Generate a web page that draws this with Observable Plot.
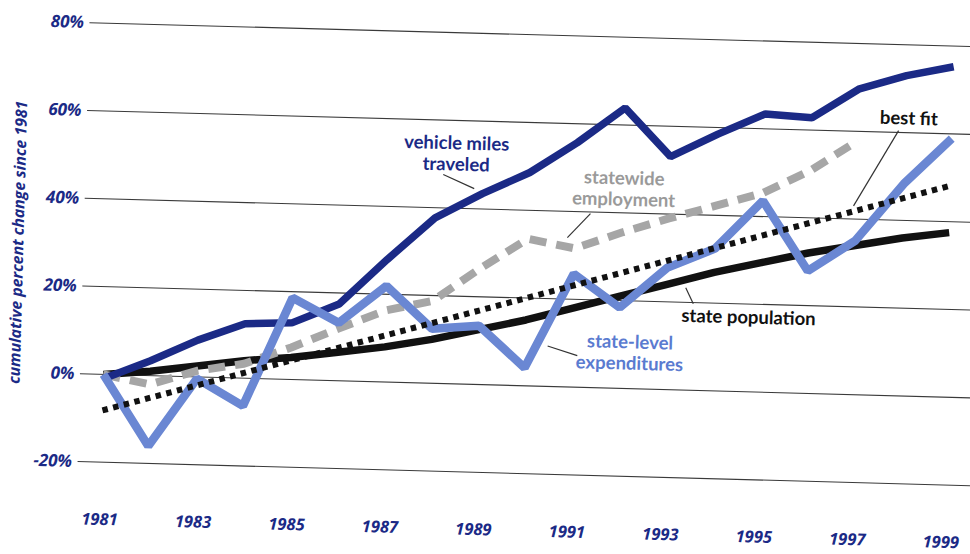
<!DOCTYPE html>
<html>
<head>
<meta charset="utf-8">
<script src="https://cdn.jsdelivr.net/npm/d3@7"></script>
<script src="https://cdn.jsdelivr.net/npm/@observablehq/plot@0.6"></script>
<style>
  html, body { margin: 0; padding: 0; background: #fff; }
  #chart { width: 970px; height: 554px; overflow: hidden; position: relative; background: #fff; }
  #chart svg { display: block; transform: rotate(1.55deg); transform-origin: 485px 277px; }
</style>
</head>
<body>
<div id="chart"></div>
<script>
// ---- data (cumulative percent change since 1981) ----
const years = [1981,1982,1983,1984,1985,1986,1987,1988,1989,1990,1991,1992,1993,1994,1995,1996,1997,1998,1999];
const vehicleMiles = [-1, 3.4, 8.4, 12.4, 12.9, 17.5, 27.9, 37.7, 43.5, 48.6, 55.7, 63.9, 53.1, 58.5, 63.4, 62.8, 69.7, 73, 75.3];
const expenditures = [0, -16, -0.4, -6.3, 18.6, 13.2, 21.9, 12.4, 13.4, 4.1, 25.8, 18.4, 27.8, 32.4, 43.6, 27.9, 35.1, 48.3, 58.9];
const population = [0, 1, 2.5, 4, 5, 6.5, 8, 10, 12.5, 15, 18, 21, 24, 27, 29.5, 32, 34, 36, 37.5];
const employmentYears = [1981,1982,1983,1984,1985,1986,1987,1988,1989,1990,1991,1992,1993,1994,1995,1996,1997];
const employment = [0, -2, 1.4, 3.3, 7.3, 11.9, 16.3, 18.8, 26.5, 33.5, 31.6, 35.5, 39, 42.2, 45.4, 50.8, 57.9];
const bestFitYears = [1981, 1999];
const bestFit = [-8.2, 48.2];

const gridValues = [-20, 0, 20, 40, 60, 80];
const tickYears = [1981,1983,1985,1987,1989,1991,1993,1995,1997,1999];
const yTitle = "cumulative percent change since 1981";

// annotation labels (placed in data units)
const labelTexts  = ["vehicle miles\ntraveled", "statewide\nemployment", "state-level\nexpenditures", "state population", "best fit"];
const labelYears  = [1988.42, 1992.02, 1992.24, 1994.76, 1998.07];
const labelValues = [52.55, 45.6, 8.3, 17.1, 63.4];
// leader lines from label to series
const leaderYear1  = [1988.15, 1991.32, 1990.48, 1993.40, 1997.86];
const leaderValue1 = [47.6, 39.6, 9.2, 23.3, 60.4];
const leaderYear2  = [1988.82, 1990.84, 1991.12, 1993.57, 1996.94];
const leaderValue2 = [44.6, 34.0, 7.2, 19.7, 43.0];

// ---- styles ----
const NAVY = "#1b2a86";
const LIGHT = "#6a87d3";
const LIGHT_TEXT = "#5a7bd0";
const GRAY = "#a6a6a6";
const GRAY_TEXT = "#9a9a9a";
const BLACK = "#111111";
const labelColors = [NAVY, GRAY_TEXT, LIGHT_TEXT, BLACK, BLACK];
const AXIS_FONT = "'Open Sans', 'Noto Sans', sans-serif";
const LABEL_FONT = "Lato, 'Open Sans', sans-serif";

const rows = (xs, ys) => xs.map((x, i) => ({year: x, value: ys[i]}));

const labels = labelTexts.map((t, i) => ({text: t, year: labelYears[i], value: labelValues[i], color: labelColors[i]}));
const leaders = leaderYear1.map((y, i) => ({x1: y, y1: leaderValue1[i], x2: leaderYear2[i], y2: leaderValue2[i]}));

const chart = Plot.plot({
  width: 970,
  height: 554,
  marginLeft: 105.7,
  marginRight: 22.7,
  marginTop: 33,
  marginBottom: 82,
  style: {fontFamily: LABEL_FONT, background: "white", overflow: "visible"},
  x: {domain: [1981, 1999]},
  y: {domain: [-20, 80]},
  marks: [
    Plot.ruleY(gridValues, {stroke: "#3a3a3a", strokeWidth: 1.1, insetLeft: -23, insetRight: -50}),
    Plot.axisY({ticks: gridValues, tickSize: 0, tickPadding: 29, tickFormat: d => `${d}%`,
      fontFamily: AXIS_FONT, fontSize: 17, fontWeight: 700, fontStyle: "italic", color: NAVY, label: null}),
    Plot.axisX({ticks: tickYears, tickSize: 0, tickPadding: 51, tickFormat: d => String(d),
      fontFamily: AXIS_FONT, fontSize: 16.5, fontWeight: 700, fontStyle: "italic", color: NAVY, label: null}),
    Plot.text([yTitle], {frameAnchor: "left", textAnchor: "middle", lineAnchor: "middle", rotate: -90, dx: -88.6, dy: 2,
      fontFamily: AXIS_FONT, fontSize: 15.8, fontWeight: 700, fontStyle: "italic", fill: NAVY}),
    Plot.line(rows(years, population), {x: "year", y: "value", stroke: BLACK, strokeWidth: 7.5,
      strokeLinejoin: "round", strokeLinecap: "butt"}),
    Plot.line(rows(employmentYears, employment), {x: "year", y: "value", stroke: GRAY, strokeWidth: 8,
      strokeDasharray: "17,10", strokeLinejoin: "miter", strokeLinecap: "butt"}),
    Plot.line(rows(years, vehicleMiles), {x: "year", y: "value", stroke: NAVY, strokeWidth: 7.5,
      strokeLinejoin: "miter", strokeLinecap: "butt"}),
    Plot.line(rows(years, expenditures), {x: "year", y: "value", stroke: LIGHT, strokeWidth: 8.5,
      strokeLinejoin: "miter", strokeLinecap: "butt"}),
    Plot.line(rows(bestFitYears, bestFit), {x: "year", y: "value", stroke: BLACK, strokeWidth: 6,
      strokeDasharray: "5.5,5.5", strokeLinecap: "butt"}),
    Plot.link(leaders, {x1: "x1", y1: "y1", x2: "x2", y2: "y2", stroke: "#333", strokeWidth: 1.2}),
    ...labels.map(l => Plot.text([l], {x: "year", y: "value", text: "text", fill: l.color,
      fontFamily: LABEL_FONT, fontSize: 18.5, fontWeight: 700, lineHeight: 1.15}))
  ]
});

document.getElementById("chart").appendChild(chart);
</script>
</body>
</html>
